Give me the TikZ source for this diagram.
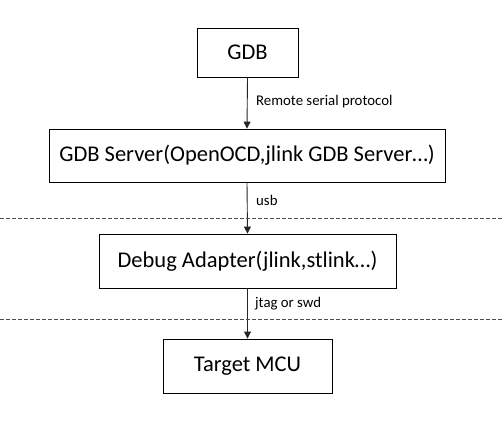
\documentclass[tikz,border=0pt]{standalone}
\usepackage{fontspec}
\setmainfont{Carlito}
\usetikzlibrary{arrows.meta}
\begin{document}
\begin{tikzpicture}[x=1pt,y=-1pt,
  box/.style={draw=black,line width=0.9pt,inner sep=0pt,font=\fontsize{22.5}{26}\selectfont},
  conn/.style={draw=black!85,line width=0.9pt,-{Triangle[width=7pt,length=7pt]}},
  lbl/.style={font=\fontsize{14.8}{17}\selectfont,anchor=west,inner sep=0pt},
  sep/.style={draw=black!70,line width=0.8pt,dash pattern=on 3.5pt off 2.5pt}]
\useasboundingbox (0,0) rectangle (502,424);
\node[box,minimum width=101pt,minimum height=49pt] (gdb) at (247.5,52.5) {GDB};
\node[box,minimum width=396pt,minimum height=53pt] (srv) at (247,155.5) {GDB Server(OpenOCD,jlink GDB Server…)};
\node[box,minimum width=297pt,minimum height=54pt] (dbg) at (247.5,261) {Debug Adapter(jlink,stlink…)};
\node[box,minimum width=169pt,minimum height=54pt] (mcu) at (247.5,366) {Target MCU};
\draw[conn] (gdb.south) -- (srv.north);
\draw[conn] (srv.south) -- (dbg.north);
\draw[conn] (dbg.south) -- (mcu.north);
\node[lbl] (l1) at (256,102) {Remote serial protocol};
\node[lbl] (l2) at (256,200) {usb};
\node[lbl] (l3) at (255,304) {jtag or swd};
\coordinate (a1) at (0,218);
\coordinate (b1) at (502,218);
\coordinate (a2) at (0,319);
\coordinate (b2) at (502,319);
\draw[sep] (a1) -- (b1);
\draw[sep] (a2) -- (b2);
\end{tikzpicture}
\end{document}
